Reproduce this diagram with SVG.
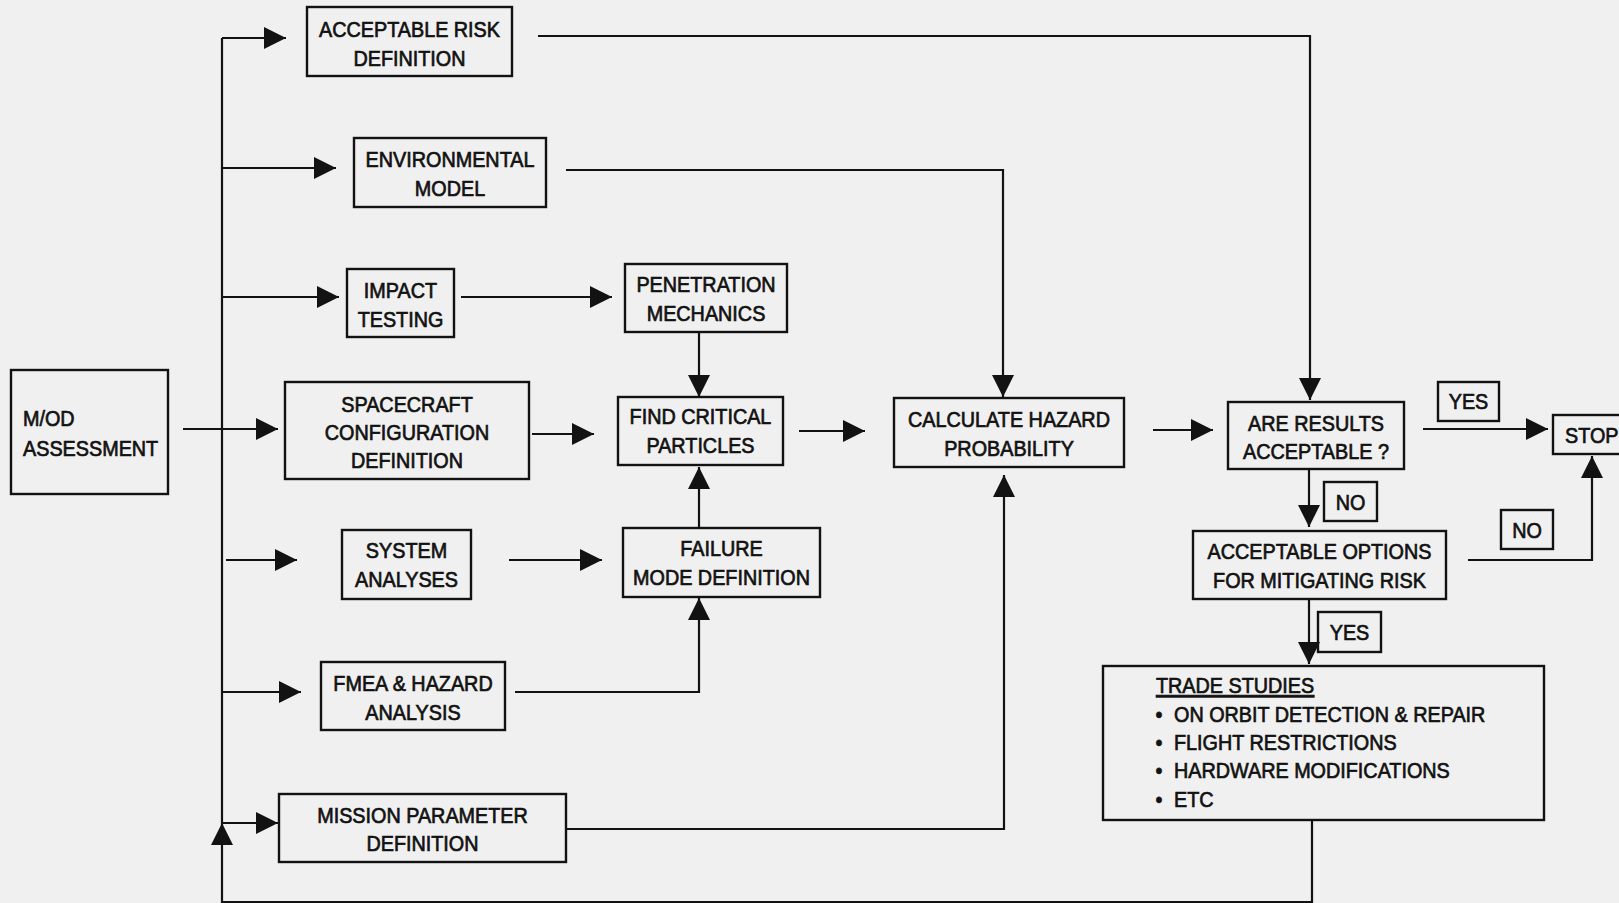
<svg xmlns="http://www.w3.org/2000/svg" width="1619" height="903" viewBox="0 0 1619 903">
  <style>
    .box { fill: none; stroke: #121212; stroke-width: 2.4; }
    .wire { fill: none; stroke: #121212; stroke-width: 2.2; }
    text { font-family: "Liberation Sans", Arial, Helvetica, sans-serif; font-size: 22px; fill: #121212; stroke: #121212; stroke-width: 0.7; }
    .c { text-anchor: middle; }
    .u { text-decoration: underline; }
  </style>
  <defs>
    <marker id="arrow" markerUnits="userSpaceOnUse" markerWidth="24" markerHeight="24" refX="22" refY="11" orient="auto">
      <path d="M0,0 L22,11 L0,22 Z" fill="#121212"/>
    </marker>
  </defs>

  <rect width="1619" height="903" fill="#f0f0f0"/>

  <!-- connectors -->
  <g id="connectors" class="wire">
    <!-- distribution bus -->
    <path d="M222,38 V823"/>
    <path d="M222,38 H286" marker-end="url(#arrow)"/>
    <path d="M222,168 H336" marker-end="url(#arrow)"/>
    <path d="M222,297 H339" marker-end="url(#arrow)"/>
    <path d="M226,560 H297" marker-end="url(#arrow)"/>
    <path d="M222,692 H301" marker-end="url(#arrow)"/>
    <path d="M222,823 H278" marker-end="url(#arrow)"/>
    <path d="M183,429 H278" marker-end="url(#arrow)"/>
    <!-- analysis chain -->
    <path d="M461,297 H612" marker-end="url(#arrow)"/>
    <path d="M532,434 H594" marker-end="url(#arrow)"/>
    <path d="M509,560 H602" marker-end="url(#arrow)"/>
    <path d="M699,332 V397" marker-end="url(#arrow)"/>
    <path d="M699,528 V467" marker-end="url(#arrow)"/>
    <path d="M515,692 H699 V598" marker-end="url(#arrow)"/>
    <path d="M799,431 H865" marker-end="url(#arrow)"/>
    <path d="M566,170 H1003 V397" marker-end="url(#arrow)"/>
    <path d="M567,829 H1004 V475" marker-end="url(#arrow)"/>
    <path d="M538,36 H1310 V400" marker-end="url(#arrow)"/>
    <path d="M1153,430 H1213" marker-end="url(#arrow)"/>
    <!-- decision branches -->
    <path d="M1423,429 H1548" marker-end="url(#arrow)"/>
    <path d="M1309,469 V527" marker-end="url(#arrow)"/>
    <path d="M1468,560 H1592 V456" marker-end="url(#arrow)"/>
    <path d="M1309,599 V664" marker-end="url(#arrow)"/>
    <!-- feedback loop back to the bus -->
    <path d="M1312,820 V902 H222 V823" marker-end="url(#arrow)"/>
  </g>

  <g id="acceptable-risk">
    <rect class="box" x="307" y="7" width="205" height="69"/>
    <g transform="translate(409.5 0) scale(0.9 1)"><text class="c" y="37">ACCEPTABLE RISK</text><text class="c" y="66">DEFINITION</text></g>
  </g>

  <g id="environmental-model">
    <rect class="box" x="354" y="138" width="192" height="69"/>
    <g transform="translate(450 0) scale(0.9 1)"><text class="c" y="167">ENVIRONMENTAL</text><text class="c" y="196">MODEL</text></g>
  </g>

  <g id="impact-testing">
    <rect class="box" x="347" y="269" width="107" height="68"/>
    <g transform="translate(400.5 0) scale(0.9 1)"><text class="c" y="298">IMPACT</text><text class="c" y="327">TESTING</text></g>
  </g>

  <g id="penetration-mechanics">
    <rect class="box" x="625" y="264" width="162" height="68"/>
    <g transform="translate(706 0) scale(0.9 1)"><text class="c" y="292">PENETRATION</text><text class="c" y="321">MECHANICS</text></g>
  </g>

  <g id="mod-assessment">
    <rect class="box" x="11" y="370" width="157" height="124"/>
    <g transform="translate(23 0) scale(0.9 1)"><text x="0" y="426">M/OD</text><text x="0" y="456">ASSESSMENT</text></g>
  </g>

  <g id="spacecraft-configuration">
    <rect class="box" x="285" y="382" width="244" height="97"/>
    <g transform="translate(407 0) scale(0.9 1)"><text class="c" y="412">SPACECRAFT</text><text class="c" y="440">CONFIGURATION</text><text class="c" y="468">DEFINITION</text></g>
  </g>

  <g id="find-critical-particles">
    <rect class="box" x="618" y="397" width="165" height="68"/>
    <g transform="translate(700.5 0) scale(0.9 1)"><text class="c" y="424">FIND CRITICAL</text><text class="c" y="453">PARTICLES</text></g>
  </g>

  <g id="calculate-hazard">
    <rect class="box" x="894" y="398" width="230" height="69"/>
    <g transform="translate(1009 0) scale(0.9 1)"><text class="c" y="427">CALCULATE HAZARD</text><text class="c" y="456">PROBABILITY</text></g>
  </g>

  <g id="results-acceptable">
    <rect class="box" x="1228" y="402" width="176" height="67"/>
    <g transform="translate(1316 0) scale(0.9 1)"><text class="c" y="431">ARE RESULTS</text><text class="c" y="459">ACCEPTABLE ?</text></g>
  </g>

  <g id="label-yes-stop">
    <rect class="box" x="1438" y="382" width="61" height="39"/>
    <g transform="translate(1468.5 0) scale(0.9 1)"><text class="c" y="409">YES</text></g>
  </g>

  <g id="stop">
    <rect class="box" x="1553" y="415" width="80" height="39"/>
    <g transform="translate(1565 0) scale(0.9 1)"><text x="0" y="443">STOP</text></g>
  </g>

  <g id="label-no-options">
    <rect class="box" x="1324" y="482" width="53" height="39"/>
    <g transform="translate(1350.5 0) scale(0.9 1)"><text class="c" y="510">NO</text></g>
  </g>

  <g id="mitigation-options">
    <rect class="box" x="1193" y="531" width="253" height="68"/>
    <g transform="translate(1319.5 0) scale(0.9 1)"><text class="c" y="559">ACCEPTABLE OPTIONS</text><text class="c" y="588">FOR MITIGATING RISK</text></g>
  </g>

  <g id="label-no-stop">
    <rect class="box" x="1501" y="510" width="52" height="39"/>
    <g transform="translate(1527 0) scale(0.9 1)"><text class="c" y="538">NO</text></g>
  </g>

  <g id="label-yes-trade">
    <rect class="box" x="1318" y="612" width="63" height="40"/>
    <g transform="translate(1349.5 0) scale(0.9 1)"><text class="c" y="640">YES</text></g>
  </g>

  <g id="trade-studies">
    <rect class="box" x="1103" y="666" width="441" height="154"/>
    <g transform="translate(1156 0) scale(0.9 1)"><text class="u" x="0" y="693">TRADE STUDIES</text></g>
    <g transform="translate(1159 0) scale(0.9 1)">
      <text class="c" y="722">•</text><text class="c" y="750">•</text><text class="c" y="778">•</text><text class="c" y="807">•</text>
    </g>
    <g transform="translate(1174 0) scale(0.9 1)">
      <text x="0" y="722">ON ORBIT DETECTION &amp; REPAIR</text>
      <text x="0" y="750">FLIGHT RESTRICTIONS</text>
      <text x="0" y="778">HARDWARE MODIFICATIONS</text>
      <text x="0" y="807">ETC</text>
    </g>
  </g>

  <g id="system-analyses">
    <rect class="box" x="342" y="530" width="129" height="69"/>
    <g transform="translate(406.5 0) scale(0.9 1)"><text class="c" y="558">SYSTEM</text><text class="c" y="587">ANALYSES</text></g>
  </g>

  <g id="failure-mode">
    <rect class="box" x="623" y="528" width="197" height="69"/>
    <g transform="translate(721.5 0) scale(0.9 1)"><text class="c" y="556">FAILURE</text><text class="c" y="585">MODE DEFINITION</text></g>
  </g>

  <g id="fmea-hazard">
    <rect class="box" x="321" y="662" width="184" height="68"/>
    <g transform="translate(413 0) scale(0.9 1)"><text class="c" y="691">FMEA &amp; HAZARD</text><text class="c" y="720">ANALYSIS</text></g>
  </g>

  <g id="mission-parameter">
    <rect class="box" x="279" y="794" width="287" height="68"/>
    <g transform="translate(422.5 0) scale(0.9 1)"><text class="c" y="823">MISSION PARAMETER</text><text class="c" y="851">DEFINITION</text></g>
  </g>
</svg>
